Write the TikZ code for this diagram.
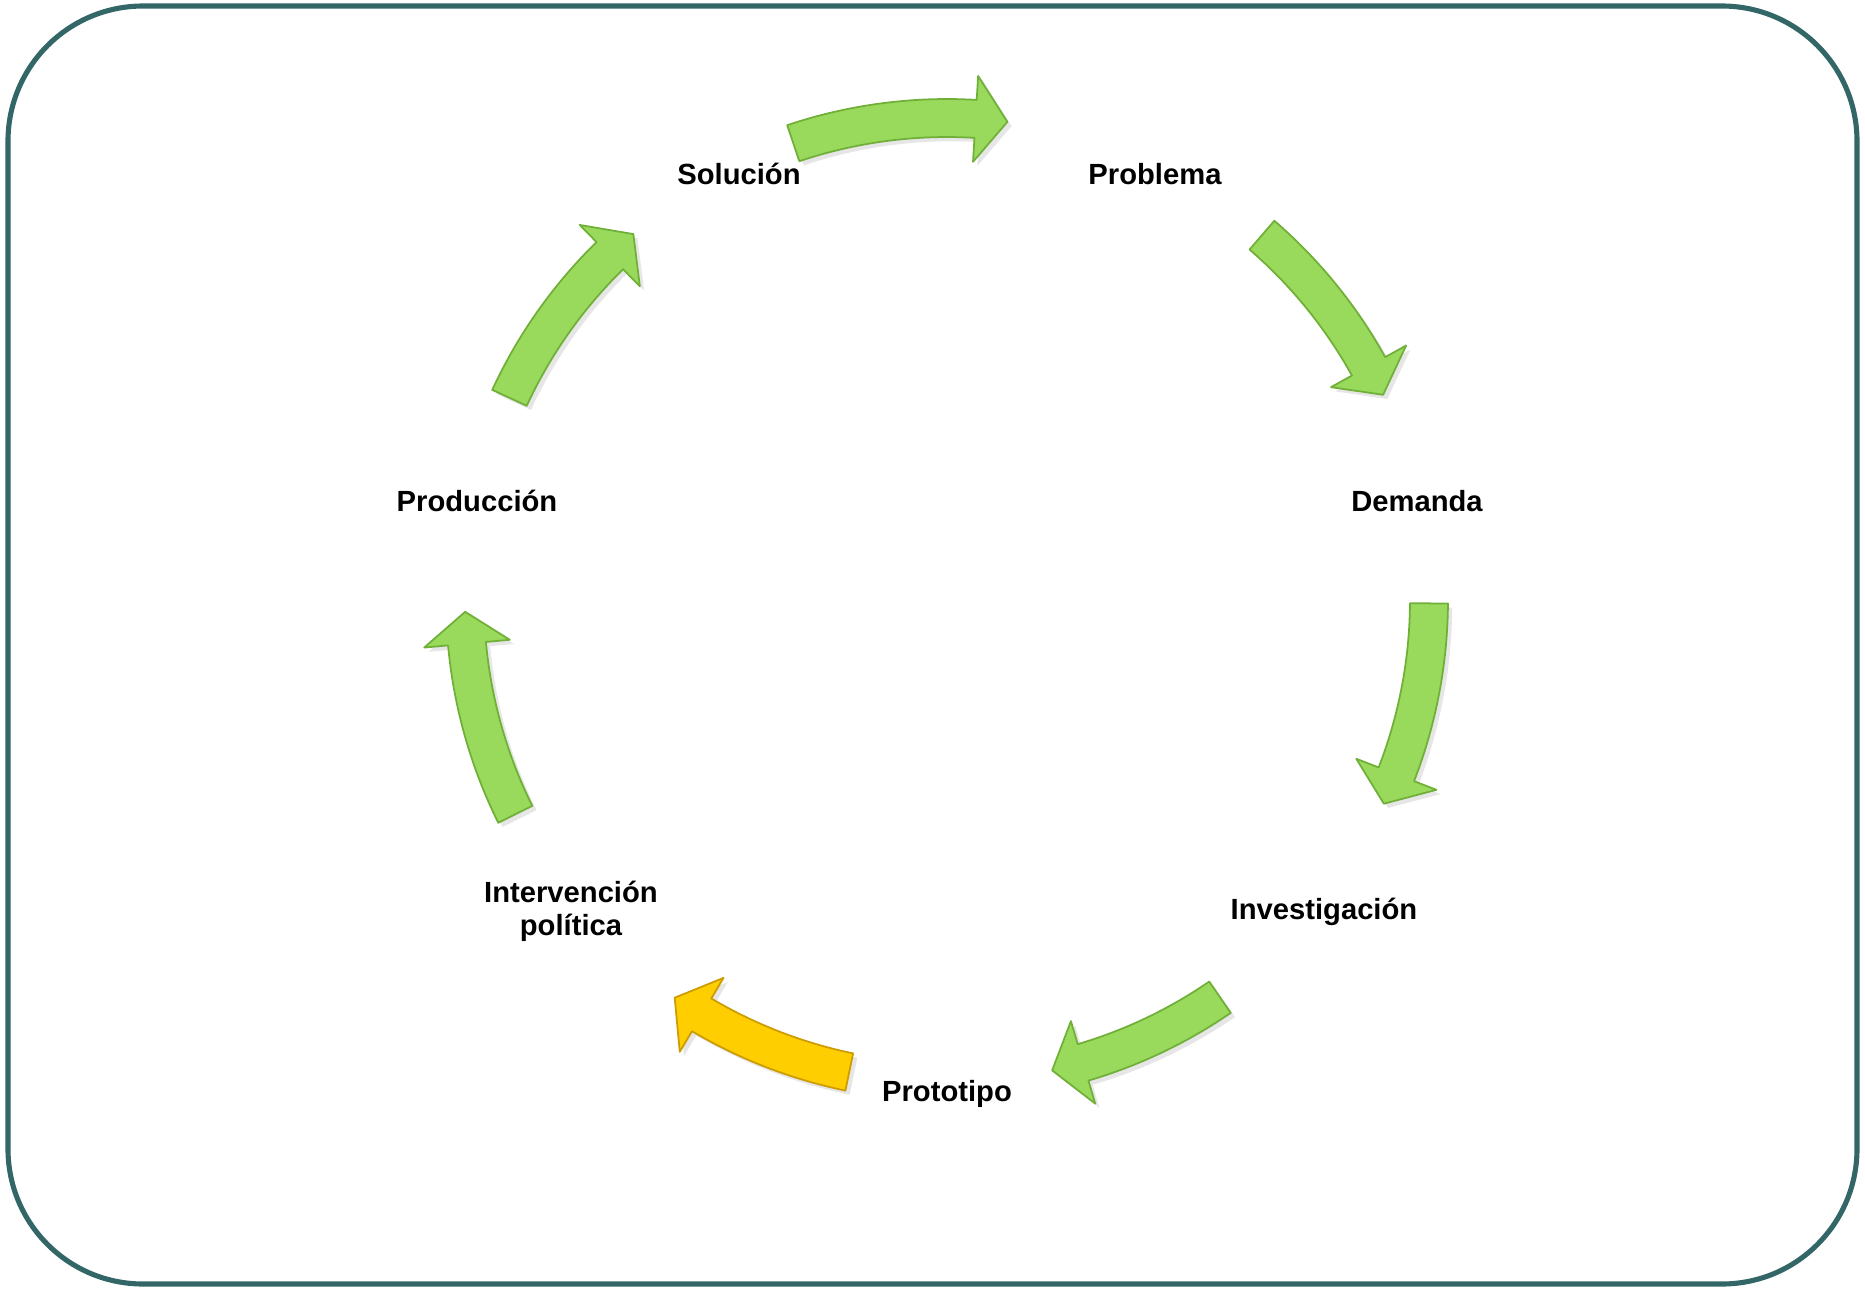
\documentclass[tikz,border=0pt]{standalone}
\usepackage{fontspec}
\setmainfont{Liberation Sans}
\usetikzlibrary{positioning,shadows}

\definecolor{framecol}{RGB}{51,102,102}
\definecolor{leaf}{RGB}{153,217,92}
\definecolor{leafedge}{RGB}{112,176,56}
\definecolor{sun}{RGB}{255,206,0}
\definecolor{sunedge}{RGB}{204,156,0}

\begin{document}
\begin{tikzpicture}[x=0.01cm,y=0.01cm]
            \tikzset{
                cyc node/.style={font=\fontsize{8.3}{9.4}\selectfont\bfseries,inner sep=0,text height=6pt,text depth=0pt},
                cyc arrow/.style={fill=#1,draw=#1edge,line width=0.5pt,line join=round,
                    drop shadow={opacity=0.2,shadow xshift=1.2pt,shadow yshift=-1.2pt}}
            }
            \useasboundingbox (0,0) rectangle (1865,-1290);
            \draw[framecol,line width=1.45pt,rounded corners=1.35cm] (8,-6) rectangle (1857,-1284);
            % labels round the cycle
            \node[cyc node] (solucion) at (739,-174) {Solución};
            \node[cyc node] (problema) at (1155,-174) {Problema};
            \node[cyc node] (demanda) at (1417,-501) {Demanda};
            \node[cyc node] (investigacion) at (1324,-909) {Investigación};
            \node[cyc node] (prototipo) at (947,-1091) {Prototipo};
            \node[cyc node,text height=,text depth=,align=center] (intervencion) at (571,-911) {Intervención\\política};
            \node[cyc node] (produccion) at (477,-501) {Producción};
            % block arrows on the ring
            \foreach \s/\e/\c in {108.6/82.8/leaf, 49.2/25.2/leaf, -0.4/-25.0/leaf, -55.5/-77.4/leaf,
                                  -101.7/-124.4/sun, -153.6/-178.6/leaf, 155.2/130.6/leaf} {
                \path[cyc arrow=\c,shift={(947,-600)}]
                    (\s:501) arc[start angle=\s,end angle=\e+3.8,radius=501]
                    -- (\e+3.8:525) -- (\e:482) -- (\e+3.8:439)
                    -- (\e+3.8:463) arc[start angle=\e+3.8,end angle=\s,radius=463]
                    -- cycle;
            }
\end{tikzpicture}
\end{document}
